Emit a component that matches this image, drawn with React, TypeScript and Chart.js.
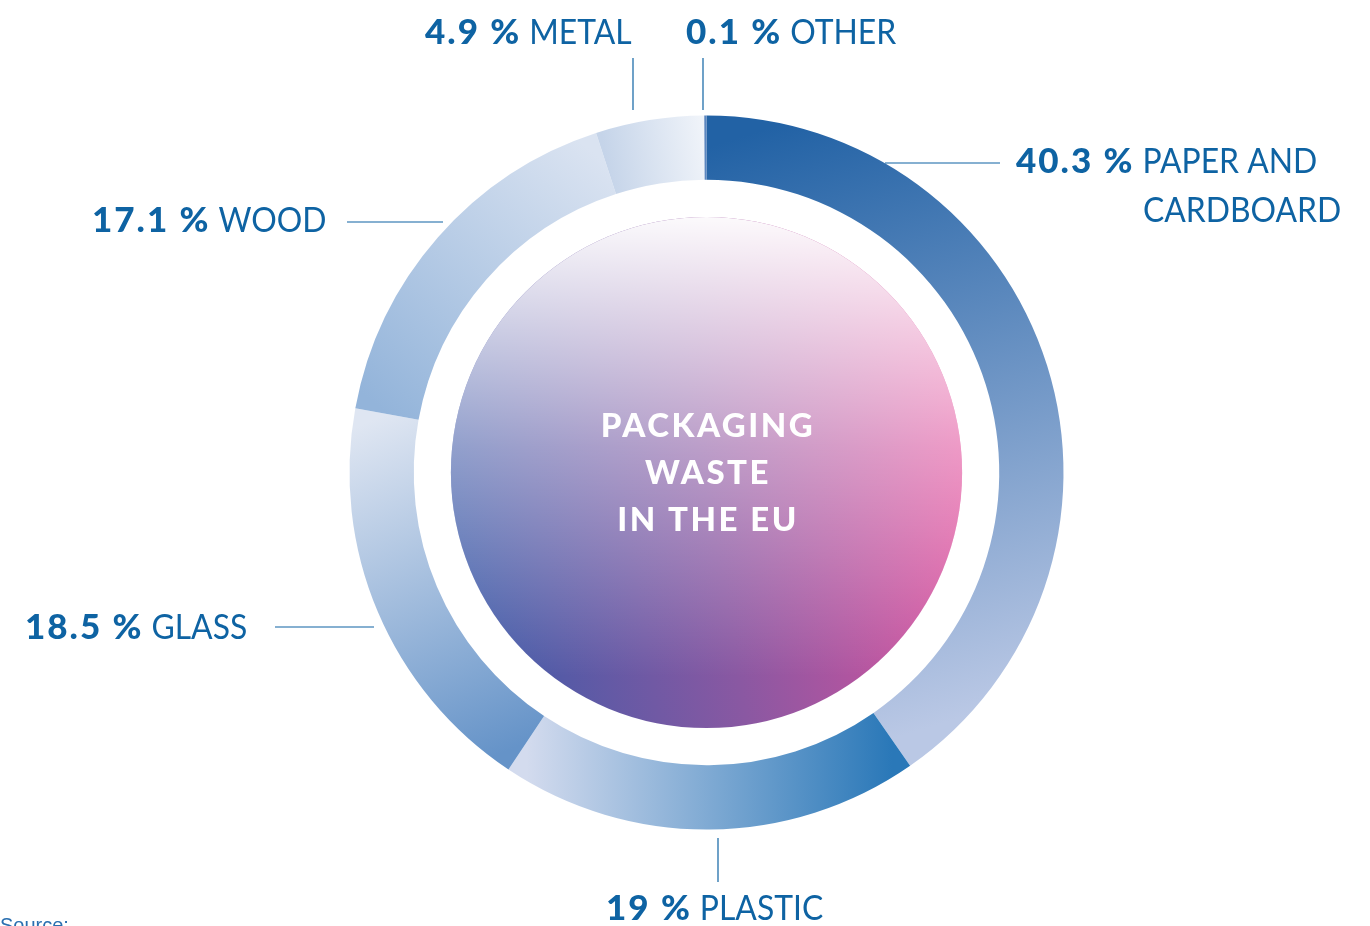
import React, { useEffect, useRef } from "react";
import { Chart, registerables } from "chart.js";

Chart.register(...registerables);

// ---- data ----
const categories = ["PAPER AND CARDBOARD", "PLASTIC", "GLASS", "WOOD", "METAL", "OTHER"];
const shares = [40.3, 19, 18.5, 17.1, 4.9, 0.1];
const shareLabels = ["40.3 %", "19 %", "18.5 %", "17.1 %", "4.9 %", "0.1 %"];
const nameLines = [["PAPER AND", "CARDBOARD"], ["PLASTIC"], ["GLASS"], ["WOOD"], ["METAL"], ["OTHER"]];
const centerTitle = ["PACKAGING", "WASTE", "IN THE EU"];
const sourceText = "Source:";

// ---- styles ----
const startColors = ["#2262a5", "#2a78b8", "#6593c8", "#93b4da", "#c5d4e9", "#5b86bf"];
const endColors = ["#bac8e5", "#d3dbee", "#dfe6f2", "#dae3f1", "#eff3f9", "#5b86bf"];
const TEXT_BLUE = "#0e63a3";
const FONT = "Lato, 'Open Sans', sans-serif";

// label layout: left x of text, baseline y, second-line x, leader line
const labelLayout = [
  { x: 1016, y: 173, x2: 1143, lh: 49, line: [885, 163, 1000, 163] },
  { x: 606, y: 920, line: [718, 838, 718, 882] },
  { x: 25, y: 639, line: [275, 627, 374, 627] },
  { x: 92, y: 232, line: [347, 222, 443, 222] },
  { x: 425, y: 44, line: [633, 58, 633, 110] },
  { x: 686, y: 44, line: [703, 58, 703, 110] },
];

const total = shares.reduce((a, b) => a + b, 0);

function arcGradient(c: any) {
  const chart = c.chart;
  const i = c.dataIndex;
  const area = chart.chartArea;
  if (!area || i === undefined) return startColors[i ?? 0];
  const before = shares.slice(0, i).reduce((a, b) => a + b, 0);
  const a0 = (before / total) * Math.PI * 2 - Math.PI / 2;
  const a1 = ((before + shares[i]) / total) * Math.PI * 2 - Math.PI / 2;
  const cx = (area.left + area.right) / 2;
  const cy = (area.top + area.bottom) / 2;
  const r = (Math.min(area.right - area.left, area.bottom - area.top) / 2) * 0.91;
  const g = chart.ctx.createLinearGradient(
    cx + r * Math.cos(a0), cy + r * Math.sin(a0),
    cx + r * Math.cos(a1), cy + r * Math.sin(a1)
  );
  g.addColorStop(0, startColors[i]);
  g.addColorStop(1, endColors[i]);
  return g;
}

function drawScaled(ctx: CanvasRenderingContext2D, text: string, x: number, y: number, sx: number) {
  ctx.save();
  ctx.translate(x, y);
  ctx.scale(sx, 1);
  ctx.fillText(text, 0, 0);
  ctx.restore();
  return ctx.measureText(text).width * sx;
}

const decorPlugin = {
  id: "decor",
  beforeDatasetsDraw(chart: any) {
    const arc = chart.getDatasetMeta(0).data[0] as any;
    if (!arc) return;
    const { x, y, outerRadius } = arc;
    const R = outerRadius * 0.716;
    const ctx = chart.ctx;
    ctx.save();
    ctx.beginPath();
    ctx.arc(x, y, R, 0, Math.PI * 2);
    ctx.closePath();
    const base = ctx.createLinearGradient(x - R, y + R * 0.25, x + R, y - R * 0.1);
    base.addColorStop(0, "#3d5ba8");
    base.addColorStop(0.5, "#8a58a2");
    base.addColorStop(1, "#e2519d");
    ctx.fillStyle = base;
    ctx.fill();
    const over = ctx.createLinearGradient(x, y - R, x, y + R * 0.8);
    over.addColorStop(0, "rgba(255,255,255,0.97)");
    over.addColorStop(0.5, "rgba(255,255,255,0.42)");
    over.addColorStop(1, "rgba(255,255,255,0)");
    ctx.fillStyle = over;
    ctx.fill();
    // title
    ctx.fillStyle = "#ffffff";
    ctx.font = `900 33px ${FONT}`;
    (ctx as any).letterSpacing = "2.5px";
    ctx.textAlign = "center";
    ctx.textBaseline = "alphabetic";
    centerTitle.forEach((t, k) => {
      ctx.fillText(t, x + 1.5, y - 36 + k * 47);
    });
    ctx.restore();
  },
  afterDraw(chart: any) {
    const ctx = chart.ctx;
    ctx.save();
    ctx.strokeStyle = TEXT_BLUE;
    ctx.lineWidth = 1.2;
    ctx.fillStyle = TEXT_BLUE;
    ctx.textBaseline = "alphabetic";
    ctx.textAlign = "left";
    labelLayout.forEach((L, i) => {
      const [x1, y1, x2, y2] = L.line;
      ctx.beginPath();
      ctx.moveTo(x1, y1);
      ctx.lineTo(x2, y2);
      ctx.stroke();
      ctx.font = `900 35px ${FONT}`;
      (ctx as any).letterSpacing = "2px";
      const pct = shareLabels[i];
      ctx.fillText(pct, L.x, L.y);
      const w = ctx.measureText(pct).width;
      (ctx as any).letterSpacing = "0px";
      ctx.font = `400 35px ${FONT}`;
      const nx = L.x + w + 8;
      drawScaled(ctx, nameLines[i][0], nx, L.y, 0.91);
      if (nameLines[i].length > 1) {
        drawScaled(ctx, nameLines[i][1], L.x2 ?? nx, L.y + (L.lh ?? 49), 0.91);
      }
    });
    ctx.font = `20px 'Liberation Sans', Arial, sans-serif`;
    ctx.fillStyle = "#2a6fb0";
    ctx.fillText(sourceText, 0, 932);
    ctx.restore();
  },
};

export default function App() {
  const ref = useRef<HTMLCanvasElement | null>(null);
  useEffect(() => {
    if (!ref.current) return;
    const chart = new Chart(ref.current, {
      type: "doughnut",
      data: {
        labels: categories,
        datasets: [
          {
            data: shares,
            backgroundColor: arcGradient as any,
            borderWidth: 0,
            hoverOffset: 0,
            offset: 0,
          },
        ],
      },
      options: {
        responsive: false,
        animation: false,
        cutout: "82%",
        rotation: 0,
        events: [],
        layout: { padding: { left: 349.5, right: 306.5, top: 115.5, bottom: 96.5 } },
        plugins: { legend: { display: false }, tooltip: { enabled: false } },
      } as any,
      plugins: [decorPlugin],
    });
    return () => chart.destroy();
  }, []);
  return (
    <div style={{ position: "fixed", left: 0, top: 0, width: 1370, height: 926, background: "#fff" }}>
      <canvas ref={ref} width={1370} height={926} style={{ display: "block" }} />
    </div>
  );
}
